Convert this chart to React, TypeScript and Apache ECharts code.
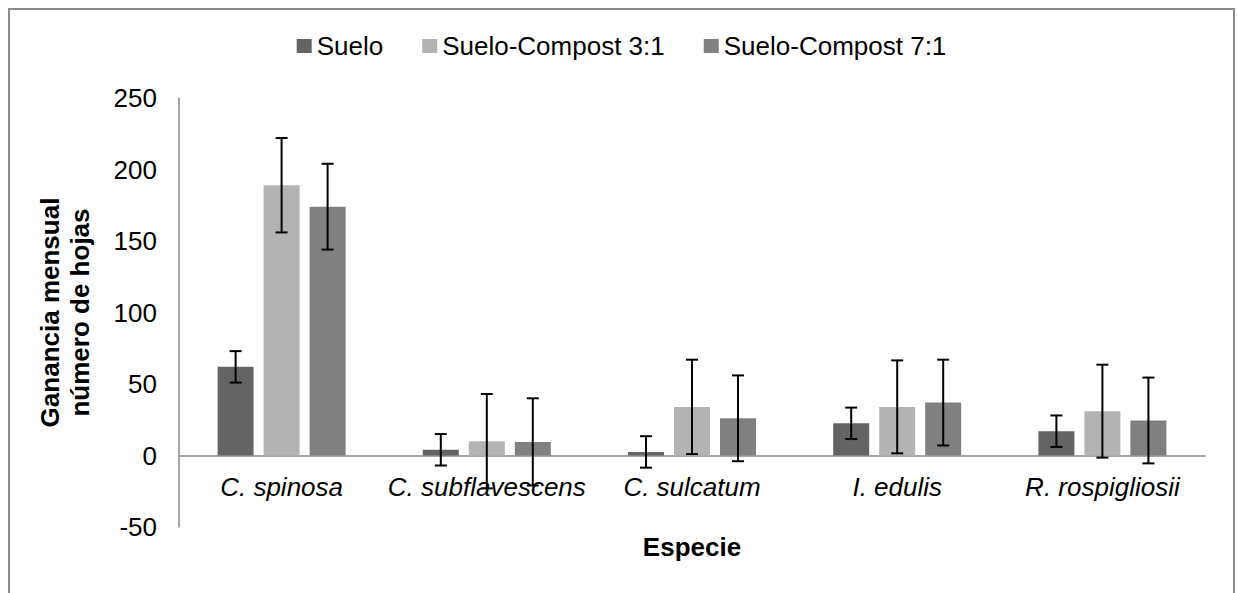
import React, { useEffect, useRef } from "react";
import * as echarts from "echarts";

const categories = ["C. spinosa", "C. subflavescens", "C. sulcatum", "I. edulis", "R. rospigliosii"];
const seriesNames = ["Suelo", "Suelo-Compost 3:1", "Suelo-Compost 7:1"];
const suelo = [62, 4, 2.5, 22.5, 17];
const compost31 = [189, 10, 34, 34, 31];
const compost71 = [174, 9.5, 26, 37, 24.5];
const errSuelo = [11, 11, 11, 11, 11];
const err31 = [33, 33, 33, 32.5, 32.5];
const err71 = [30, 30.5, 30, 30, 30];

const colors = ["#646464", "#b3b3b3", "#808080"];
const FONT = "'Liberation Sans', Arial, sans-serif";
const BAR_W = 36;
const GAP = 10;

function errSeries(values: number[], errs: number[], offset: number) {
  return {
    type: "custom",
    z: 10,
    silent: true,
    clip: false,
    encode: { x: 0, y: 1 },
    data: values.map((v, i) => [i, v, errs[i]]),
    renderItem: (params: any, api: any) => {
      const i = api.value(0);
      const v = api.value(1);
      const e = api.value(2);
      const top = api.coord([i, v + e]);
      const bot = api.coord([i, v - e]);
      const x = top[0] + offset;
      const hw = 6;
      const style = { stroke: "#000", lineWidth: 2 };
      return {
        type: "group",
        children: [
          { type: "line", shape: { x1: x, y1: top[1], x2: x, y2: bot[1] }, style },
          { type: "line", shape: { x1: x - hw, y1: top[1], x2: x + hw, y2: top[1] }, style },
          { type: "line", shape: { x1: x - hw, y1: bot[1], x2: x + hw, y2: bot[1] }, style },
        ],
      };
    },
  };
}

export default function App() {
  const ref = useRef<HTMLDivElement>(null);
  useEffect(() => {
    if (!ref.current) return;
    const chart = echarts.init(ref.current, null, { renderer: "svg" });
    const dataSets = [suelo, compost31, compost71];
    const errSets = [errSuelo, err31, err71];
    const step = BAR_W + GAP;
    chart.setOption({
      animation: false,
      textStyle: { fontFamily: FONT },
      legend: {
        top: 18,
        left: "center",
        itemWidth: 15,
        itemHeight: 14,
        itemGap: 39,
        icon: "rect",
        textStyle: { fontFamily: FONT, fontSize: 26, color: "#000" },
        data: seriesNames,
      },
      grid: { left: 169, top: 88, width: 1026, height: 429, outerBoundsMode: "none", containLabel: false },
      xAxis: {
        type: "category",
        data: categories,
        axisTick: { show: false },
        axisLine: { lineStyle: { color: "#888", width: 1.5 } },
        axisLabel: { fontFamily: FONT, fontSize: 26, fontStyle: "italic", color: "#000", margin: -53, interval: 0, hideOverlap: false },
        name: "Especie",
        nameLocation: "middle",
        nameGap: 7,
        nameTextStyle: { fontFamily: FONT, fontSize: 26, fontWeight: "bold", color: "#000" },
      },
      yAxis: {
        type: "value",
        min: -50,
        max: 250,
        interval: 50,
        splitLine: { show: false },
        axisTick: { show: false },
        axisLine: { show: true, lineStyle: { color: "#888", width: 1.5 } },
        axisLabel: { fontFamily: FONT, fontSize: 26, color: "#000", margin: 22 },
        name: "Ganancia mensual\nnúmero de hojas",
        nameLocation: "middle",
        nameRotate: 90,
        nameGap: 84,
        nameTextStyle: { fontFamily: FONT, fontSize: 26, fontWeight: "bold", color: "#000", lineHeight: 30 },
      },
      series: [
        ...dataSets.map((d, k) => ({
          type: "bar",
          name: seriesNames[k],
          data: d,
          barWidth: BAR_W,
          barGap: (GAP / BAR_W) * 100 + "%",
          itemStyle: { color: colors[k] },
        })),
        ...dataSets.map((d, k) => errSeries(d, errSets[k], (k - 1) * step)),
      ],
    });
    return () => chart.dispose();
  }, []);
  return (
    <div
      style={{
        position: "fixed",
        left: 8,
        top: 8,
        width: 1227,
        height: 620,
        border: "2px solid #8a8a8a",
        boxSizing: "border-box",
        background: "#fff",
      }}
    >
      <div ref={ref} style={{ width: 1223, height: 616 }} />
    </div>
  );
}
